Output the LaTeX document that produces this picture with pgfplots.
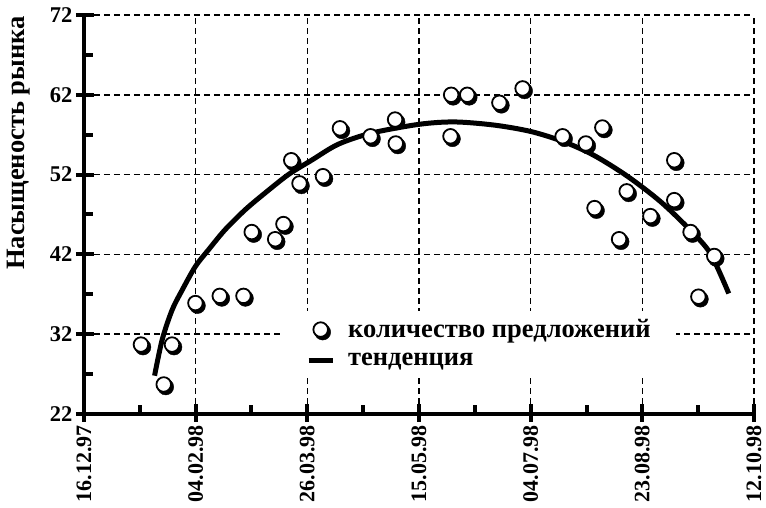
\documentclass[border=0pt]{standalone}
\usepackage{fontspec}
\setmainfont{Liberation Serif}
\usepackage{pgfplots}
\usepackage{pgfplotstable}
\pgfplotsset{compat=1.18}

\pgfplotstableread{
day val
25.5 30.7
35.7 25.7
39.4 30.7
49.9 35.9
60.8 36.8
71.4 36.8
75.1 44.8
85.6 43.9
89.3 45.8
92.8 53.8
96.5 50.9
107.0 51.8
114.6 57.8
128.3 56.8
139.3 58.9
139.6 55.9
164.1 56.8
164.4 62.0
171.6 62.0
186.0 61.0
196.4 62.8
214.3 56.8
224.7 55.9
228.6 47.8
232.1 57.9
239.6 43.9
243.0 49.9
253.6 46.8
264.3 53.8
264.3 48.8
271.6 44.8
275.1 36.7
282.2 41.8
}\points

\pgfplotstableread{
day val
31.6 26.8
35.0 31.3
39.4 35.0
43.9 37.5
49.9 40.5
55.8 42.6
63.2 45.1
72.2 47.6
81.1 49.7
91.5 52.0
101.9 53.8
113.8 55.8
128.7 57.2
150.0 58.3
165.9 58.6
183.8 58.2
200.1 57.4
215.0 56.1
228.4 54.4
243.3 51.8
258.2 48.6
271.6 45.0
280.5 42.1
288.7 37.1
}\trend

\begin{document}
\begin{tikzpicture}
\begin{axis}[
  at={(0,0)}, anchor=south west,
  scale only axis, width=670pt, height=399pt,
  xmin=0, xmax=300, ymin=22, ymax=72,
  axis lines*=left,
  axis line style={line width=4.5pt, black},
  xtick={0,50,...,300}, ytick={22,32,...,72},
  xticklabels={16.12.97,04.02.98,26.03.98,15.05.98,04.07.98,23.08.98,12.10.98},
  minor x tick num=1, minor y tick num=1,
  tick align=inside, major tick length=10pt, minor tick length=9pt,
  tick style={line width=4pt, black},
  extra x ticks={0,50,...,300}, extra x tick labels={},
  extra x tick style={tick align=outside, major tick length=8pt, grid=none},
  extra y ticks={22,32,...,72}, extra y tick labels={},
  extra y tick style={tick align=outside, major tick length=8pt, grid=none},
  grid=major,
  major grid style={line width=1.6pt, black, dash pattern=on 6pt off 4pt},
  /pgf/number format/assume math mode=true,
  xticklabel style={yshift=-10pt, rotate=90, anchor=east, inner sep=1pt, font=\fontsize{22}{24}\selectfont\bfseries},
  yticklabel style={font=\fontsize{22.5}{24}\selectfont\bfseries, xshift=-8pt},
  ylabel={Насыщеность рынка},
  ylabel style={at={(axis description cs:-0.097,0.679)}, anchor=center, rotate=0, font=\fontsize{26.5}{30}\selectfont\bfseries},
  legend style={at={(axis description cs:0.297,0.0937)}, anchor=south west, draw=none, fill=white,
    font=\fontsize{26.5}{30}\selectfont\bfseries, inner xsep=23pt, inner ysep=7pt,
    nodes={inner sep=2pt}, row sep=10pt, column sep=11pt},
  legend cell align=left,
]
\addplot[line width=5pt, black, smooth, forget plot] table[x=day, y=val] {\trend};
\addplot[only marks, mark=*, mark size=8pt, mark options={fill=black, draw=black, xshift=2pt, yshift=-2.5pt}, forget plot] table[x=day, y=val] {\points};
\addplot[only marks, mark=*, mark size=7.3pt, mark options={fill=white, draw=black, line width=1.8pt},
  legend image code/.code={\fill[black] (14pt,-2.5pt) circle (8pt); \draw[black, fill=white, line width=1.8pt] (12pt,0pt) circle (7.3pt);}] table[x=day, y=val] {\points};
\addlegendentry{количество предложений}
\addlegendimage{line width=5pt, black, legend image code/.code={\draw[line width=5pt, black] (0pt,0pt) -- (24pt,0pt);}}
\addlegendentry{тенденция}
\end{axis}
\pgfresetboundingbox
\path[use as bounding box] (-84pt,-94pt) rectangle (682pt,414pt);
\end{tikzpicture}
\end{document}
